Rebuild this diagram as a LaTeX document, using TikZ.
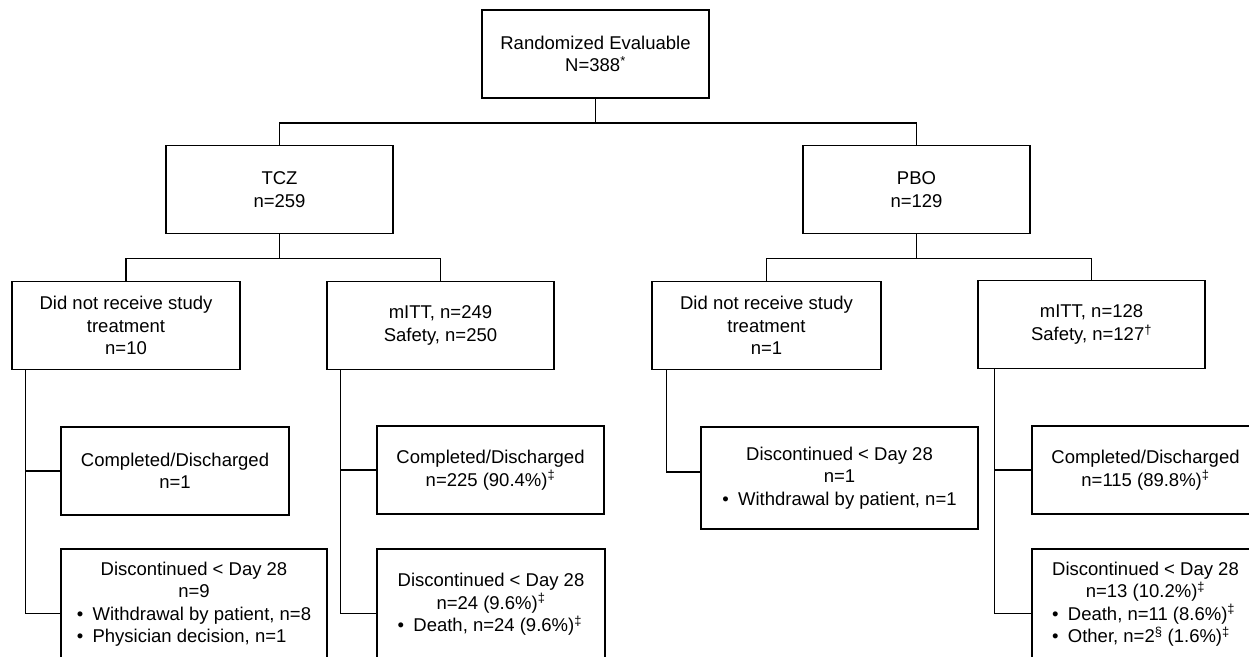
\documentclass[tikz,border=0pt]{standalone}
\usepackage{fontspec}
\setmainfont{Liberation Sans}
\usepackage{tikz}
\usetikzlibrary{positioning}
\newcommand{\bul}{\textbullet\hspace{0.5em}}
\newcommand{\ctr}[1]{\multicolumn{1}{@{}c@{}}{#1}}

\begin{document}
\begin{tikzpicture}[
    x=1pt, y=-1pt,
    box/.style={draw, line width=1.5pt, minimum width=227pt, minimum height=88pt, inner sep=0pt, align=center, font=\fontsize{18.5}{22.5}\selectfont},
    tallbox/.style={box, minimum height=111pt},
    link/.style={line width=1.5pt},
]
\useasboundingbox (0,0) rectangle (1249,656);

% Randomized
\node[box] (rand) at (595.5,54) {Randomized Evaluable\\N=388\textsuperscript{*}};

% Arms
\node[box] (tcz) at (279.5,189.5) {TCZ\\n=259};
\node[box] (pbo) at (916.5,189.5) {PBO\\n=129};

% Populations
\node[box, minimum width=228pt] (nr1) at (126,325.5) {Did not receive study\\treatment\\n=10};
\node[box] (itt1) at (440.5,325.5) {mITT, n=249\\Safety, n=250};
\node[box, minimum width=229pt] (nr2) at (766.5,325.5) {Did not receive study\\treatment\\n=1};
\node[box] (itt2) at (1091.5,324.5) {mITT, n=128\\Safety, n=127\textsuperscript{†}};

% Outcomes - TCZ
\node[box, minimum width=228pt] (comp1) at (175,471) {Completed/Discharged\\n=1};
\node[tallbox, minimum width=266pt] (disc1) at (194,604.5) {\begin{tabular}{@{}l@{}}
  \ctr{Discontinued < Day 28}\\ \ctr{n=9}\\
  \bul Withdrawal by patient, n=8\\ \bul Physician decision, n=1\end{tabular}};
\node[box] (comp2) at (490.5,470) {Completed/Discharged\\n=225 (90.4\%)\textsuperscript{‡}};
\node[tallbox, minimum width=228pt] (disc2) at (491,604.5) {\begin{tabular}{@{}l@{}}
  \ctr{Discontinued < Day 28}\\ \ctr{n=24 (9.6\%)\textsuperscript{‡}}\\
  \bul Death, n=24 (9.6\%)\textsuperscript{‡}\end{tabular}};

% Outcomes - PBO
\node[box, minimum width=277pt, minimum height=102pt] (disc3) at (839.5,478) {\begin{tabular}{@{}l@{}}
  \ctr{Discontinued < Day 28}\\ \ctr{n=1}\\
  \bul Withdrawal by patient, n=1\end{tabular}};
\node[box] (comp4) at (1145.5,470) {Completed/Discharged\\n=115 (89.8\%)\textsuperscript{‡}};
\node[tallbox] (disc4) at (1145.5,604.5) {\begin{tabular}{@{}l@{}}
  \ctr{Discontinued < Day 28}\\ \ctr{n=13 (10.2\%)\textsuperscript{‡}}\\
  \bul Death, n=11 (8.6\%)\textsuperscript{‡}\\
  \bul Other, n=2\textsuperscript{§} (1.6\%)\textsuperscript{‡}\end{tabular}};

% Tree lines
\draw[link] (rand.south) -- ++(0,24) -| (tcz.north);
\draw[link] (rand.south) -- ++(0,24) -| (pbo.north);
\draw[link] (tcz.south) -- ++(0,24) -| (nr1.north);
\draw[link] (tcz.south) -- ++(0,24) -| (itt1.north);
\draw[link] (pbo.south) -- ++(0,24) -| (nr2.north);
\draw[link] (pbo.south) -- ++(0,24) -| (itt2.north);

% Side branches
\coordinate (s1) at ([xshift=14pt]nr1.south west);
\coordinate (s2) at ([xshift=14pt]itt1.south west);
\coordinate (s3) at ([xshift=15pt]nr2.south west);
\coordinate (s4) at ([xshift=17pt]itt2.south west);
\draw[link] (s1) |- (comp1.west);
\draw[link] (s1) |- ([yshift=-9pt]disc1.west);
\draw[link] (s2) |- (comp2.west);
\draw[link] (s2) |- ([yshift=-9pt]disc2.west);
\draw[link] (s3) |- ([yshift=6pt]disc3.west);
\draw[link] (s4) |- (comp4.west);
\draw[link] (s4) |- ([yshift=-9pt]disc4.west);
\end{tikzpicture}
\end{document}
